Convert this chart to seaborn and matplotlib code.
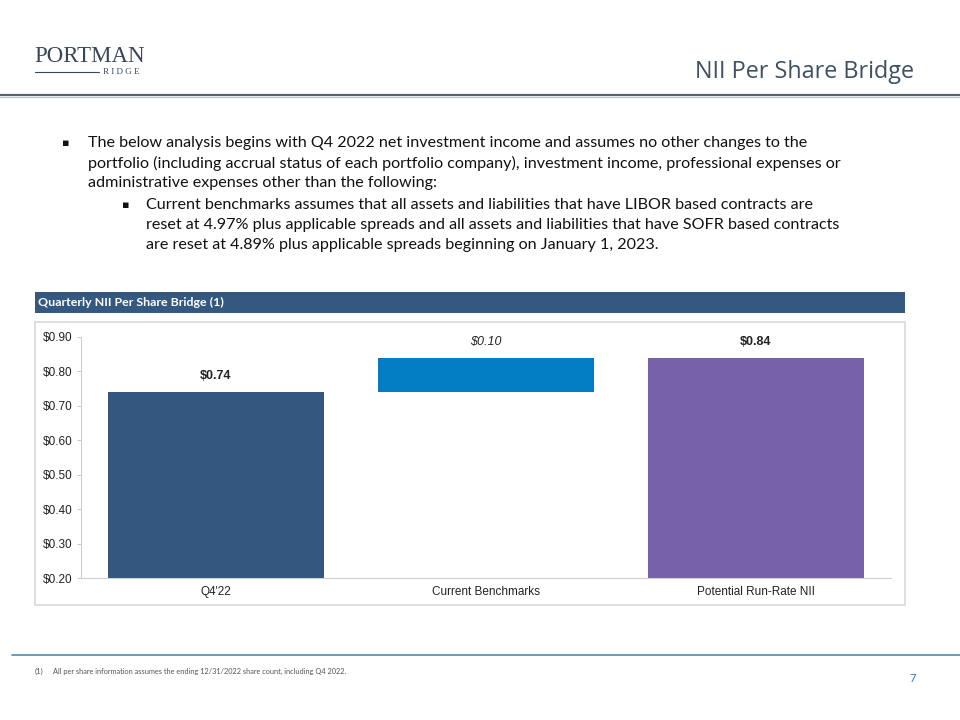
import matplotlib
matplotlib.use("Agg")
import matplotlib.pyplot as plt
import seaborn as sns
import pandas as pd
from matplotlib.patches import Rectangle
from matplotlib.lines import Line2D

categories = ["Q4'22", "Current Benchmarks", "Potential Run-Rate NII"]
heights = [0.74, 0.10, 0.84]
bottoms = [0.0, 0.74, 0.0]
bar_labels = ["$0.74", "$0.10", "$0.84"]
bar_colors = ["#33577E", "#007DC3", "#7761A8"]
yticks = [0.20, 0.30, 0.40, 0.50, 0.60, 0.70, 0.80, 0.90]
ytick_labels = ["$0.20", "$0.30", "$0.40", "$0.50", "$0.60", "$0.70", "$0.80", "$0.90"]

sns.set_theme(style="white")
plt.rcParams['font.family'] = ['Liberation Sans', 'DejaVu Sans']

W, H = 960, 720
fig = plt.figure(figsize=(9.6, 7.2), dpi=100)

def fx(x):
    return x / W

def fy(y):
    return 1 - y / H

# page decorations
fig.add_artist(Line2D([0, 1], [fy(95), fy(95)], color="#55626F", lw=1.6, transform=fig.transFigure))
fig.add_artist(Line2D([0, 1], [fy(97), fy(97)], color="#B8C0C8", lw=0.8, transform=fig.transFigure))
fig.add_artist(Line2D([fx(12), 1], [fy(655), fy(655)], color="#4A8DB5", lw=1.2, transform=fig.transFigure))

# logo
fig.text(fx(34), fy(56), "PORTMAN", family="Liberation Serif", fontsize=16.5, color="#3A4759",
         ha="left", va="center")
fig.add_artist(Line2D([fx(35), fx(99)], [fy(72), fy(72)], color="#3A4759", lw=0.8, transform=fig.transFigure))
fig.text(fx(103), fy(72), "R I D G E", family="Liberation Serif", fontsize=6.5, color="#3A4759",
         ha="left", va="center")

# title
fig.text(fx(914), fy(72), "NII Per Share Bridge", family="Open Sans", fontsize=16.8, color="#3E5064",
         ha="right", va="center")

# bullets
body_font = dict(family="Lato", fontsize=11.6, color="#111111", ha="left", va="center")
lines1 = [
    "The below analysis begins with Q4 2022 net investment income and assumes no other changes to the",
    "portfolio (including accrual status of each portfolio company), investment income, professional expenses or",
    "administrative expenses other than the following:",
]
lines2 = [
    "Current benchmarks assumes that all assets and liabilities that have LIBOR based contracts are",
    "reset at 4.97% plus applicable spreads and all assets and liabilities that have SOFR based contracts",
    "are reset at 4.89% plus applicable spreads beginning on January 1, 2023.",
]
ys1 = [143, 163, 183]
ys2 = [205, 225, 245]
fig.text(fx(62), fy(143), "\u25AA", family="DejaVu Sans", fontsize=8, color="#111111", ha="left", va="center")
for t, y in zip(lines1, ys1):
    fig.text(fx(88), fy(y), t, **body_font)
fig.text(fx(122), fy(205), "\u25AA", family="DejaVu Sans", fontsize=8, color="#111111", ha="left", va="center")
for t, y in zip(lines2, ys2):
    fig.text(fx(146), fy(y), t, **body_font)

# header bar for chart
fig.add_artist(Rectangle((fx(35), fy(313)), fx(905) - fx(35), fy(292) - fy(313),
                         facecolor="#34587F", edgecolor="none", transform=fig.transFigure))
fig.text(fx(38), fy(302.5), "Quarterly NII Per Share Bridge (1)", family="Lato", fontweight="bold",
         fontsize=8.9, color="white", ha="left", va="center")

# chart box
fig.add_artist(Rectangle((fx(35), fy(605)), fx(905) - fx(35), fy(322) - fy(605),
                         facecolor="none", edgecolor="#D9D9D9", lw=1.2, transform=fig.transFigure))

# axes
ax = fig.add_axes([fx(81), fy(578), fx(891) - fx(81), fy(337) - fy(578)])
df = pd.DataFrame({"category": categories, "value": heights})
sns.barplot(data=df, x="category", y="value", order=categories, bottom=bottoms,
            width=0.8, ax=ax, color=bar_colors[0], edgecolor="none", linewidth=0)
for patch, c in zip(ax.patches, bar_colors):
    patch.set_facecolor(c)

ax.set_ylim(0.20, 0.90)
ax.set_xlim(-0.5, 2.5)
ax.set_yticks(yticks)
ax.set_yticklabels(ytick_labels)
ax.set_xlabel("")
ax.set_ylabel("")
ax.tick_params(axis="y", labelsize=8.5, length=3, width=0.6, direction="out", pad=3,
               left=True, color="#BFBFBF")
for lab in ax.get_yticklabels():
    lab.set_color("#222222")
ax.tick_params(axis="x", labelsize=8.5, length=0, pad=6)
for lab in ax.get_xticklabels():
    lab.set_color("#222222")
for s in ["top", "right"]:
    ax.spines[s].set_visible(False)
ax.spines["left"].set_color("#D0D0D0")
ax.spines["left"].set_linewidth(0.8)
ax.spines["bottom"].set_color("#D0D0D0")
ax.spines["bottom"].set_linewidth(0.8)
ax.set_facecolor("none")

# value labels
styles = [dict(fontweight="bold"), dict(fontstyle="italic"), dict(fontweight="bold")]
for i, (h, b, lab, st) in enumerate(zip(heights, bottoms, bar_labels, styles)):
    top = h + b
    ax.annotate(lab, (i, top), xytext=(0, 11.5), textcoords="offset points", ha="center", va="center",
                fontsize=9, color="#222222", **st)

# footnote and page number
fig.text(fx(35), fy(671), "(1)", family="Lato", fontsize=5.5, color="#555555", ha="left", va="center")
fig.text(fx(53), fy(671), "All per share information assumes the ending 12/31/2022 share count, including Q4 2022.",
         family="Lato", fontsize=5.3, color="#555555", ha="left", va="center")
fig.text(fx(916), fy(678), "7", family="Lato", fontsize=8, color="#2E7DB0", ha="right", va="center")

fig.savefig("out.png", dpi=100)
